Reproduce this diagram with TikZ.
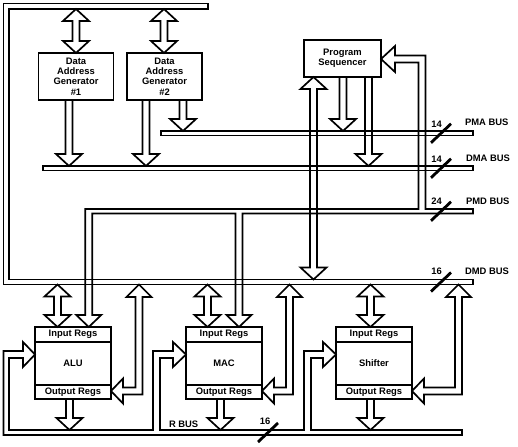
\documentclass[tikz,border=0pt]{standalone}
\usepackage{fontspec}
\setmainfont{Liberation Sans}
\begin{document}
\begin{tikzpicture}
[x=1pt,y=-1pt,line width=1.7pt,line join=miter,%
  every node/.style={font=\fontsize{9.4}{10.3}\selectfont\bfseries,inner sep=0pt,outer sep=0pt},%
  block/.style={draw,align=center,minimum width=75,minimum height=47},%
  unit/.style={draw,minimum width=76,minimum height=72},%
  slash/.style={line width=2.8pt},%
  pics/hollow/.style={code={
    \draw (0,-3.5) -- (#1-12,-3.5) -- (#1-12,-13) -- (#1,0) -- (#1-12,13) -- (#1-12,3.5) -- (0,3.5);}},%
  pics/dhollow/.style={code={
    \draw (12,-3.5) -- (#1-12,-3.5) -- (#1-12,-13) -- (#1,0) -- (#1-12,13) -- (#1-12,3.5)
      -- (12,3.5) -- (12,13) -- (0,0) -- (12,-13) -- cycle;}},%
  pics/elbow/.style={code={
    \draw (0,0) -- (12.5,12.5) -- (3.5,12.5) -- (3.5,110) -- (12-#1,110) -- (12-#1,119) -- (-#1,106.5)
      -- (12-#1,94) -- (12-#1,103) -- (-3.5,103) -- (-3.5,12.5) -- (-12.5,12.5) -- cycle;}}]
\useasboundingbox (0,0) rectangle (518,446);

\node[block] (dag1) at (76,76.5) {Data\\Address\\Generator\\\#1};
\node[block] (dag2) at (164.5,76.5) {Data\\Address\\Generator\\\#2};
\node[block,minimum width=77,minimum height=37] (seq) at (342.5,58.5) {Program\\Sequencer};

\node[unit] (alu) at (73,363) {ALU};
\draw (alu.north west) ++(0,15) -- ++(76,0);
\draw (alu.south west) ++(0,-14) -- ++(76,0);
\path (alu.north) ++(0,7.5) node {Input Regs};
\path (alu.south) ++(0,-7) node {Output Regs};
\node[unit] (mac) at (224,363) {MAC};
\draw (mac.north west) ++(0,15) -- ++(76,0);
\draw (mac.south west) ++(0,-14) -- ++(76,0);
\path (mac.north) ++(0,7.5) node {Input Regs};
\path (mac.south) ++(0,-7) node {Output Regs};
\node[unit] (shifter) at (374,363) {Shifter};
\draw (shifter.north west) ++(0,15) -- ++(76,0);
\draw (shifter.south west) ++(0,-14) -- ++(76,0);
\path (shifter.north) ++(0,7.5) node {Input Regs};
\path (shifter.south) ++(0,-7) node {Output Regs};

\draw (208,3.5) -- (3.5,3.5) -- (3.5,284.5) -- (473,284.5) -- (473,279.5) -- (9,279.5) -- (9,9) -- (208,9) -- cycle;
\draw (161,131) rectangle (473,135.5);
\draw (43,166) rectangle (473,170.5);
\draw (473,209) -- (425.5,209) -- (425.5,55.5) -- (395,55.5) -- (395,46) -- (381,59) -- (395,72) -- (395,62.5)
  -- (418.5,62.5) -- (418.5,209) -- (85.25,209) -- (85.25,315) -- (76.25,315) -- (88.75,327) -- (101.25,315)
  -- (92.25,315) -- (92.25,213.5) -- (235.5,213.5) -- (235.5,315) -- (226.5,315) -- (239,327) -- (251.5,315)
  -- (242.5,315) -- (242.5,213.5) -- (473,213.5) -- cycle;
\draw (462,430) -- (311,430) -- (311,358) -- (323,358) -- (323,367) -- (336,354.5) -- (323,342) -- (323,351)
  -- (304,351) -- (304,430) -- (160,430) -- (160,358) -- (173,358) -- (173,367) -- (186,354.5) -- (173,342)
  -- (173,351) -- (153,351) -- (153,430) -- (9,430) -- (9,358) -- (23,358) -- (23,367) -- (35,354.5)
  -- (23,342) -- (23,351) -- (3.5,351) -- (3.5,435) -- (462,435) -- cycle;

\pic[rotate=-90] at (76,9) {dhollow=44};
\pic[rotate=-90] at (164,9) {dhollow=44};
\pic[rotate=-90] at (69,100) {hollow=66};
\pic[rotate=-90] at (146,100) {hollow=66};
\pic[rotate=-90] at (183,100) {hollow=31};
\pic[rotate=-90] at (343,77) {hollow=54};
\pic[rotate=-90] at (368.5,77) {hollow=89};
\pic[rotate=-90] at (313.5,77) {dhollow=202.5};
\pic[rotate=-90] at (57.5,284.5) {dhollow=42.5};
\pic[rotate=-90] at (207.5,284.5) {dhollow=42.5};
\pic[rotate=-90] at (370.5,284.5) {dhollow=42.5};
\pic[rotate=-90] at (69.5,399) {hollow=31};
\pic[rotate=-90] at (220.5,399) {hollow=31};
\pic[rotate=-90] at (370.5,399) {hollow=31};
\pic at (139,284.5) {elbow=28};
\pic at (289.5,284.5) {elbow=27.5};
\pic at (458.5,284.5) {elbow=46.5};

\draw[slash] (441,133.25) +(-10,9.5) -- +(10,-9.5);
\draw[slash] (441,168.25) +(-10,9.5) -- +(10,-9.5);
\draw[slash] (441,211.25) +(-10,9.5) -- +(10,-9.5);
\draw[slash] (441,282) +(-10,9.5) -- +(10,-9.5);
\draw[slash] (268,432.5) +(-10,9.5) -- +(10,-9.5);

\node (pmawidth) at (436.5,124) {14};
\node[anchor=west] (pmaname) at (465,122) {PMA BUS};
\node (dmawidth) at (436.5,159) {14};
\node[anchor=west] (dmaname) at (466,158) {DMA BUS};
\node (pmdwidth) at (436.5,201) {24};
\node[anchor=west] (pmdname) at (466,201) {PMD BUS};
\node (dmdwidth) at (436.5,271) {16};
\node[anchor=west] (dmdname) at (465,271) {DMD BUS};
\node (rwidth) at (265,421.5) {16};
\node[anchor=west] (rname) at (169,424) {R BUS};
\end{tikzpicture}
\end{document}
